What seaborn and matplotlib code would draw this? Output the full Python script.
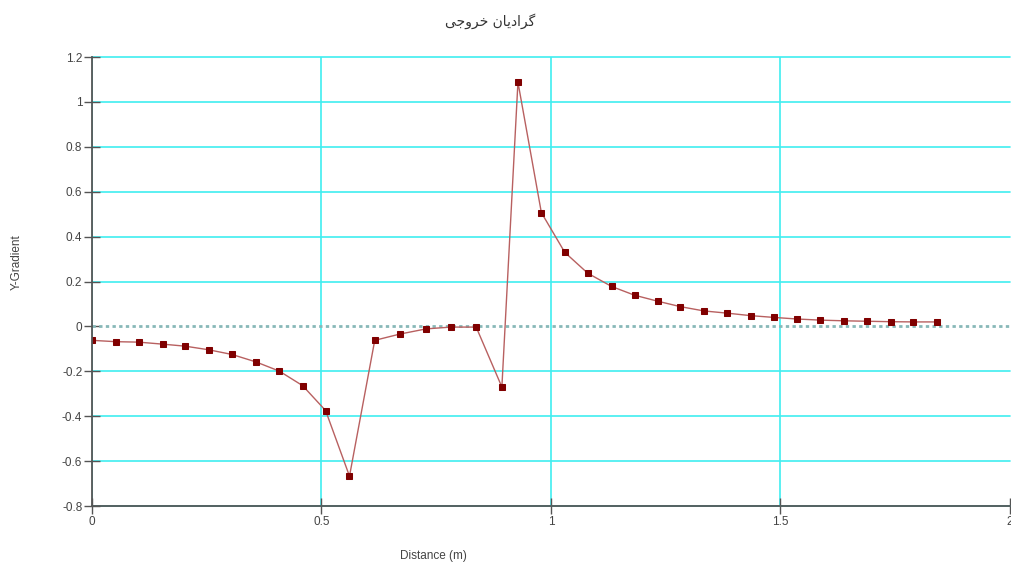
import matplotlib
matplotlib.use("Agg")
import matplotlib.pyplot as plt
import seaborn as sns
import pandas as pd

# values
distance = [0.0, 0.0515, 0.1015, 0.154, 0.203, 0.254, 0.305, 0.357, 0.408, 0.459,
            0.509, 0.561, 0.616, 0.671, 0.728, 0.782, 0.837, 0.893, 0.928, 0.979,
            1.030, 1.080, 1.132, 1.182, 1.233, 1.282, 1.333, 1.384, 1.435, 1.486,
            1.536, 1.587, 1.638, 1.688, 1.740, 1.789, 1.840]
gradient = [-0.062, -0.068, -0.070, -0.079, -0.088, -0.104, -0.125, -0.158, -0.199, -0.264,
            -0.375, -0.667, -0.062, -0.034, -0.011, -0.003, -0.003, -0.270, 1.088, 0.507,
            0.330, 0.237, 0.178, 0.139, 0.112, 0.088, 0.069, 0.059, 0.048, 0.040,
            0.033, 0.028, 0.025, 0.023, 0.021, 0.020, 0.020]

x_ticks = [0, 0.5, 1, 1.5, 2]
x_tick_labels = ["0", "0.5", "1", "1.5", "2"]
y_ticks = [-0.8, -0.6, -0.4, -0.2, 0, 0.2, 0.4, 0.6, 0.8, 1.0, 1.2]
y_tick_labels = ["-0.8", "-0.6", "-0.4", "-0.2", "0", "0.2", "0.4", "0.6", "0.8", "1", "1.2"]

# "گرادیان خروجی" written with Arabic presentation forms in visual order,
# since matplotlib does no shaping / bidi on its own
title_text = "\uFBFD\uFE9F\uFEED\uFEAE\uFEA7 \uFEE5\uFE8E\uFBFE\uFEA9\uFE8D\uFEAE\uFB94"

df = pd.DataFrame({"Distance": distance, "Gradient": gradient})

sns.set_style("white")
plt.rcParams["font.family"] = ["Liberation Sans", "DejaVu Sans"]

fig = plt.figure(figsize=(10.11, 5.65), dpi=100)
ax = fig.add_axes([0.091, 0.1044, 0.908, 0.7947])

sns.lineplot(data=df, x="Distance", y="Gradient", ax=ax, sort=False,
             color="#b86060", linewidth=1.0, marker="s", markersize=5,
             markerfacecolor="#800000", markeredgecolor="#800000")

ax.set_xlim(0, 2)
ax.set_ylim(-0.8, 1.2)
ax.set_xticks(x_ticks, labels=x_tick_labels)
ax.set_yticks(y_ticks, labels=y_tick_labels)

# cyan grid, but the zero line is dotted instead
ax.grid(True, color="#40eef0", linewidth=1.2, zorder=0)
for gl in ax.get_ygridlines():
    gl.set_clip_on(False)
for val, gl in zip(y_ticks, ax.get_ygridlines()):
    if val == 0:
        gl.set_visible(False)
for val, gl in zip(x_ticks, ax.get_xgridlines()):
    if val == 2:
        gl.set_visible(False)
ax.axhline(0, color="#88b8b8", linestyle=(0, (1.2, 1.2)), linewidth=2.0, zorder=1)
ax.set_axisbelow(True)

for side in ["top", "right"]:
    ax.spines[side].set_visible(False)
for side in ["left", "bottom"]:
    ax.spines[side].set_color("#555555")
    ax.spines[side].set_linewidth(1.3)

ax.tick_params(axis="both", direction="inout", length=12, width=1.0, color="#555555",
               labelsize=8.5, labelcolor="#444444", pad=1, left=True, bottom=True)

ax.set_xlabel("Distance (m)", fontsize=8.5, color="#444444")
ax.set_ylabel("Y-Gradient", fontsize=8.5, color="#444444")
ax.xaxis.set_label_coords(0.372, -0.098)
ax.yaxis.set_label_coords(-0.075, 0.543)

fig.text(0.485, 0.962, title_text, ha="center", va="center", fontsize=10,
         color="#333333", family=["DejaVu Sans"])

fig.savefig("out.png", dpi=100)
